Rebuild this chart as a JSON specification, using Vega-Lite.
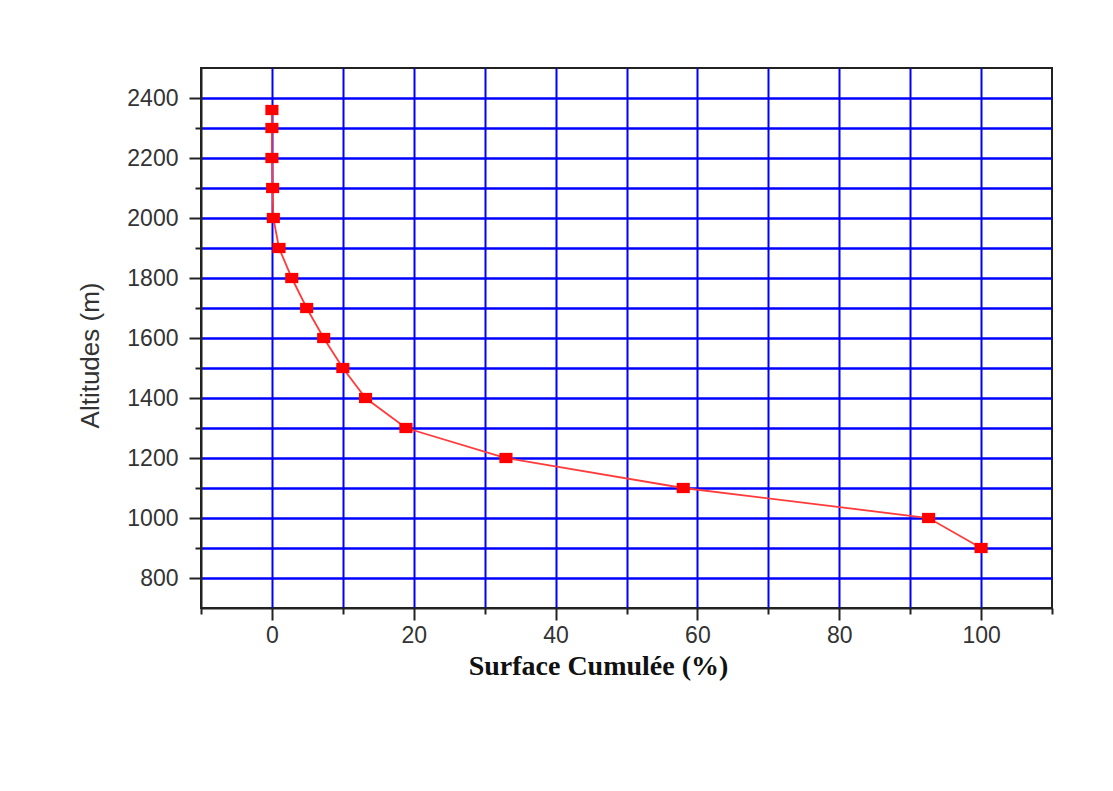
{
  "$schema": "https://vega.github.io/schema/vega-lite/v6.json",
  "width": 851,
  "height": 540,
  "autosize": {"type": "none"},
  "padding": {"left": 201, "top": 68, "right": 61, "bottom": 183},
  "background": "white",
  "config": {
    "view": {"stroke": "#222222", "strokeWidth": 2},
    "axis": {
      "domainColor": "#222222",
      "domainWidth": 2,
      "tickColor": "#222222",
      "tickWidth": 2,
      "gridColor": "#0000ff",
      "gridOpacity": 1,
      "labelFont": "Liberation Sans",
      "labelColor": "#333333",
      "labelFontSize": 23
    }
  },
  "data": {
    "values": [
      {"surface": 0, "altitude": 2360},
      {"surface": 0, "altitude": 2300},
      {"surface": 0, "altitude": 2200},
      {"surface": 0.1, "altitude": 2100},
      {"surface": 0.2, "altitude": 2000},
      {"surface": 1.0, "altitude": 1900},
      {"surface": 2.8, "altitude": 1800},
      {"surface": 4.9, "altitude": 1700},
      {"surface": 7.3, "altitude": 1600},
      {"surface": 10.0, "altitude": 1500},
      {"surface": 13.2, "altitude": 1400},
      {"surface": 18.9, "altitude": 1300},
      {"surface": 33.0, "altitude": 1200},
      {"surface": 58.0, "altitude": 1100},
      {"surface": 92.6, "altitude": 1000},
      {"surface": 100, "altitude": 900}
    ]
  },
  "encoding": {
    "x": {
      "field": "surface",
      "type": "quantitative",
      "scale": {"domain": [-10, 110], "nice": false, "zero": false},
      "axis": {
        "values": [-10, 0, 10, 20, 30, 40, 50, 60, 70, 80, 90, 100, 110],
        "labelExpr": "datum.value % 20 === 0 ? datum.label : ''",
        "tickSize": {"condition": {"test": "datum.value % 20 === 0", "value": 12}, "value": 6},
        "labelPadding": 4,
        "labelBaseline": "top",
        "grid": true,
        "gridWidth": 2,
        "gridOpacity": {"condition": {"test": "datum.value < 0 || datum.value > 100", "value": 0}, "value": 1},
        "title": "Surface Cumulée (%)",
        "titleFont": "Liberation Serif",
        "titleFontWeight": "bold",
        "titleFontSize": 28,
        "titleColor": "#111111",
        "titleX": 397,
        "titleY": 66,
        "titleAlign": "center",
        "titleBaseline": "alphabetic"
      }
    },
    "y": {
      "field": "altitude",
      "type": "quantitative",
      "scale": {"domain": [700, 2500], "nice": false, "zero": false},
      "axis": {
        "values": [800, 900, 1000, 1100, 1200, 1300, 1400, 1500, 1600, 1700, 1800, 1900, 2000, 2100, 2200, 2300, 2400],
        "labelExpr": "datum.value % 200 === 0 ? datum.label : ''",
        "format": "d",
        "tickSize": {"condition": {"test": "datum.value % 200 === 0", "value": 12}, "value": 6},
        "labelPadding": 11,
        "grid": true,
        "gridWidth": 2.5,
        "title": "Altitudes (m)",
        "titleFont": "Liberation Sans",
        "titleFontWeight": "normal",
        "titleFontSize": 26,
        "titleColor": "#333333",
        "titleAngle": -90,
        "titleX": -111,
        "titleY": 287,
        "titleAlign": "center",
        "titleBaseline": "middle"
      }
    },
    "order": {"field": "altitude", "type": "quantitative"}
  },
  "layer": [
    {"mark": {"type": "line", "color": "#ff3b3b", "strokeWidth": 1.8}},
    {"mark": {"type": "point", "shape": "M-1.15,-0.9H1.15V0.9H-1.15Z", "filled": true, "color": "#ff0000", "opacity": 1, "size": 130}}
  ]
}
